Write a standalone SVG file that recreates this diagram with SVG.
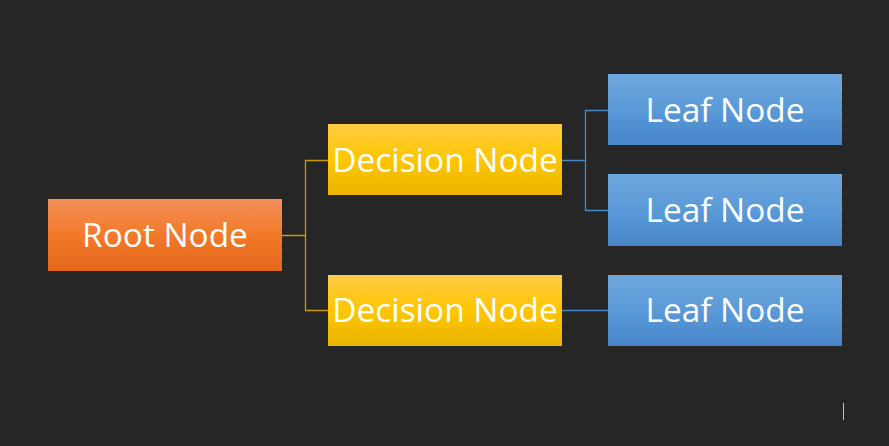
<svg xmlns="http://www.w3.org/2000/svg" width="889" height="446" viewBox="0 0 889 446">
<defs>
<linearGradient id="gOrange" x1="0" y1="0" x2="0" y2="1"><stop offset="0" stop-color="#F28F5A"/><stop offset="0.5" stop-color="#F37A28"/><stop offset="1" stop-color="#E2661A"/></linearGradient>
<linearGradient id="gYellow" x1="0" y1="0" x2="0" y2="1"><stop offset="0" stop-color="#FFCB45"/><stop offset="0.5" stop-color="#FFC600"/><stop offset="1" stop-color="#E9B400"/></linearGradient>
<linearGradient id="gBlue" x1="0" y1="0" x2="0" y2="1"><stop offset="0" stop-color="#6FA7DC"/><stop offset="0.5" stop-color="#5A9AD8"/><stop offset="1" stop-color="#4686C8"/></linearGradient>
</defs>
<style>
.lbl{font-family:"Open Sans","Noto Sans",sans-serif;font-size:33.4px;fill:#FFFFFF;text-anchor:middle;}
.cy{fill:none;stroke:#C99A06;stroke-width:1.3;}
.cb{fill:none;stroke:#4A88C8;stroke-width:1.3;}
</style>
<rect width="889" height="446" fill="#262626"/>
<g id="connectors">
<path class="cy" d="M282 235.5 H305.5 V160.5 H328"/>
<path class="cy" d="M305.5 235.5 V310.5 H328"/>
<path class="cb" d="M562 160.5 H585.5 V110.5 H608"/>
<path class="cb" d="M585.5 160.5 V210.5 H608"/>
<path class="cb" d="M562 310.5 H608"/>
</g>
<g id="root"><rect x="48" y="199" width="234" height="72" fill="url(#gOrange)"/><text class="lbl" x="165" y="246.5">Root Node</text></g>
<g id="decision1"><rect x="328" y="124" width="234" height="71" fill="url(#gYellow)"/><text class="lbl" x="445" y="171.5">Decision Node</text></g>
<g id="decision2"><rect x="328" y="275" width="234" height="71" fill="url(#gYellow)"/><text class="lbl" x="445" y="321.5">Decision Node</text></g>
<g id="leaf1"><rect x="608" y="74" width="234" height="71" fill="url(#gBlue)"/><text class="lbl" x="725" y="121.5">Leaf Node</text></g>
<g id="leaf2"><rect x="608" y="174" width="234" height="72" fill="url(#gBlue)"/><text class="lbl" x="725" y="221.5">Leaf Node</text></g>
<g id="leaf3"><rect x="608" y="275" width="234" height="71" fill="url(#gBlue)"/><text class="lbl" x="725" y="321.5">Leaf Node</text></g>
<line x1="843.5" y1="403" x2="843.5" y2="420" stroke="#BFBFBF" stroke-width="1"/>
</svg>
